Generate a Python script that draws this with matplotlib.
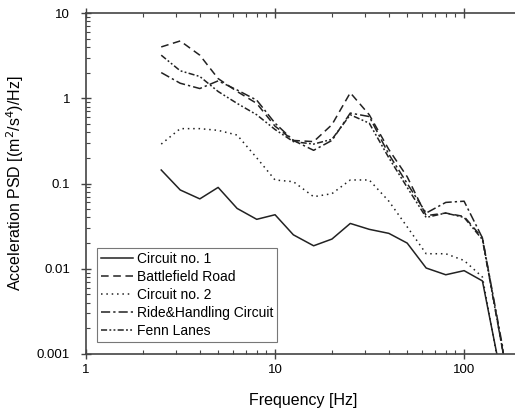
import matplotlib
matplotlib.use("Agg")
import matplotlib.pyplot as plt
from matplotlib.ticker import LogLocator, NullFormatter, FixedLocator, FixedFormatter

plt.rcParams['font.family'] = ['Liberation Sans', 'DejaVu Sans']

freq = [2.5, 3.15, 4, 5, 6.3, 8, 10, 12.5, 16, 20, 25, 31.5, 40, 50, 63, 80, 100, 125, 160, 200]

circuit1 = [0.144, 0.084, 0.066, 0.090, 0.051, 0.038, 0.043, 0.025, 0.0186, 0.0223, 0.034, 0.029, 0.026, 0.020,
            0.0102, 0.0085, 0.0095, 0.0072, 0.00045, 0.00001]
battlefield = [4.0, 4.7, 3.2, 1.7, 1.2, 0.87, 0.47, 0.32, 0.31, 0.49, 1.16, 0.64, 0.25, 0.12,
               0.042, 0.045, 0.041, 0.023, 0.0011, 0.00001]
circuit2 = [0.29, 0.44, 0.44, 0.42, 0.37, 0.20, 0.11, 0.105, 0.070, 0.076, 0.11, 0.11, 0.062, 0.031,
            0.015, 0.015, 0.0125, 0.008, 0.0004, 0.00001]
ride = [2.0, 1.5, 1.3, 1.6, 1.25, 0.95, 0.51, 0.32, 0.245, 0.32, 0.67, 0.61, 0.22, 0.10,
        0.045, 0.060, 0.062, 0.023, 0.0012, 0.00001]
fenn = [3.2, 2.1, 1.8, 1.2, 0.87, 0.64, 0.43, 0.31, 0.29, 0.33, 0.64, 0.51, 0.20, 0.09,
        0.040, 0.045, 0.040, 0.022, 0.0011, 0.00001]

labels = ["Circuit no. 1", "Battlefield Road", "Circuit no. 2", "Ride&Handling Circuit", "Fenn Lanes"]

fig = plt.figure(figsize=(5.15, 4.08), dpi=100)
ax = fig.add_axes([86/515, 1-354/408, (521-86)/515, (354-13)/408])

col = '#222222'
lw = 1.1
ax.plot(freq, circuit1, color=col, lw=lw, ls='-', label=labels[0])
ax.plot(freq, battlefield, color=col, lw=lw, ls=(0, (5, 3)), label=labels[1])
ax.plot(freq, circuit2, color=col, lw=lw, ls=(0, (1, 2.5)), label=labels[2])
ax.plot(freq, ride, color=col, lw=lw, ls=(0, (6, 2, 1.5, 2)), label=labels[3])
ax.plot(freq, fenn, color=col, lw=lw, ls=(0, (4, 1.5, 1.2, 1.5, 1.2, 1.5)), label=labels[4])

ax.set_xscale('log')
ax.set_yscale('log')
ax.set_xlim(1, 200)
ax.set_ylim(0.001, 10)

ax.xaxis.set_major_locator(FixedLocator([1, 10, 100]))
ax.xaxis.set_major_formatter(FixedFormatter(['1', '10', '100']))
ax.xaxis.set_minor_locator(LogLocator(base=10, subs=range(2, 10)))
ax.xaxis.set_minor_formatter(NullFormatter())
ax.yaxis.set_major_locator(FixedLocator([0.001, 0.01, 0.1, 1, 10]))
ax.yaxis.set_major_formatter(FixedFormatter(['0.001', '0.01', '0.1', '1', '10']))
ax.yaxis.set_minor_locator(LogLocator(base=10, subs=range(2, 10)))
ax.yaxis.set_minor_formatter(NullFormatter())

spc = '#444444'
for s in ax.spines.values():
    s.set_color(spc)
    s.set_linewidth(1.2)
ax.tick_params(which='major', direction='inout', length=7, width=1, color=spc,
               top=True, right=False, labelsize=9.5)
ax.tick_params(axis='y', which='major', pad=8)
ax.tick_params(axis='x', which='major', pad=4)
ax.tick_params(which='minor', direction='in', length=3, width=0.8, color=spc,
               top=True, right=False)

ax.set_xlabel('Frequency [Hz]', fontsize=11.5, labelpad=12)
ax.set_ylabel('Acceleration PSD [(m$^2$/s$^4$)/Hz]', fontsize=11.5, labelpad=8)

leg = ax.legend(loc='lower left', bbox_to_anchor=(0.026, 0.035), fontsize=10, frameon=True,
                fancybox=False, edgecolor='#555555', handlelength=2.3, handletextpad=0.25,
                borderpad=0.3, labelspacing=0.28, borderaxespad=0)
leg.get_frame().set_linewidth(0.8)

fig.savefig('out.png', dpi=100)
